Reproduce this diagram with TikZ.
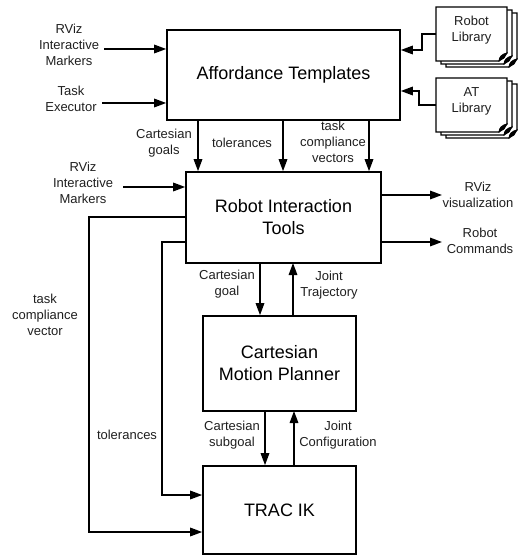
\documentclass[tikz,border=0pt]{standalone}
\usepackage{fontspec}
\setmainfont{Liberation Sans}
\usetikzlibrary{arrows.meta,calc}

\tikzset{
  block/.style={draw, line width=1.6bp, fill=white, align=center,
    font=\fontsize{18bp}{22bp}\selectfont, inner sep=0pt},
  lbl/.style={align=center, font=\fontsize{13bp}{16bp}\selectfont,
    text=black!88, inner sep=0pt},
  arr/.style={line width=1.6bp, -{Triangle[length=12bp,width=8.5bp]}},
  sheet/.style={draw, fill=white, line width=1.3bp},
  libbox/.style={minimum width=71bp, minimum height=54bp, inner sep=0pt}
}

% one stack of three library pages, #1 = top-left corner of the front page
\newcommand\pagestack[1]{%
  \foreach \o in {10,5,0} {%
    \begin{scope}[shift={($(#1)+(\o,0.6*\o)$)}]
      \draw[sheet] (0,0) -- (71,0) -- (71,46)
        .. controls (68,48) and (65,51) .. (63,54) -- (0,54) -- cycle;
      \filldraw[line width=0.8bp] (63,54) .. controls (63,50) and (66,47) .. (71,46)
        -- (68,51) -- cycle;
    \end{scope}
  }%
}

\begin{document}
\begin{tikzpicture}[x=1bp, y=-1bp]
  \useasboundingbox (0,0) rectangle (519,556);

  % main blocks
  \node[block, minimum width=233bp, minimum height=90bp] (at) at (283.5,75)
    {Affordance Templates};
  \node[block, minimum width=195bp, minimum height=91bp] (rit) at (283.5,217.5)
    {Robot Interaction\\Tools};
  \node[block, minimum width=153bp, minimum height=95bp] (cmp) at (279.5,363.5)
    {Cartesian\\Motion Planner};
  \node[block, minimum width=153bp, minimum height=88bp] (trac) at (279.5,510)
    {TRAC IK};

  % libraries
  \coordinate (rlcorner) at (436,7);
  \pagestack{rlcorner}
  \node[libbox] (robotlib) at (471.5,34) {};
  \node[lbl] (robotlibtxt) at (471.5,30) {Robot\\Library};

  \coordinate (alcorner) at (436,78);
  \pagestack{alcorner}
  \node[libbox] (atlib) at (471.5,105) {};
  \node[lbl] (atlibtxt) at (471.5,101) {AT\\Library};

  \coordinate (rlbend) at (422,34);
  \coordinate (albend) at (419,105);
  \draw[arr] (robotlib.west) -- (rlbend) -- ++(0,16) coordinate (rlin) -- (rlin -| at.east);
  \draw[arr] (atlib.west) -- (albend) -- ++(0,-14) coordinate (alin) -- (alin -| at.east);

  % inputs on the left
  \coordinate (rviz1) at (104,49);
  \coordinate (taskex) at (102,103);
  \coordinate (rviz2) at (123,187);
  \draw[arr] (rviz1) -- (rviz1 -| at.west);
  \draw[arr] (taskex) -- (taskex -| at.west);
  \draw[arr] (rviz2) -- (rviz2 -| rit.west);
  \node[lbl] (rviz1txt) at (69,45) {RViz\\Interactive\\Markers};
  \node[lbl] (taskextxt) at (71,99) {Task\\Executor};
  \node[lbl] (rviz2txt) at (83,183) {RViz\\Interactive\\Markers};

  % Affordance Templates -> Robot Interaction Tools
  \coordinate (cgx) at (198,120);
  \coordinate (tolx) at (283,120);
  \coordinate (tcx) at (369,120);
  \draw[arr] (cgx) -- (cgx |- rit.north);
  \draw[arr] (tolx) -- (tolx |- rit.north);
  \draw[arr] (tcx) -- (tcx |- rit.north);
  \node[lbl] (cgtxt) at (164,143.5) {Cartesian\\goals};
  \node[lbl] (toltxt) at (242,143) {tolerances};
  \node[lbl] (tctxt) at (333,142) {task\\compliance\\vectors};

  % outputs on the right
  \coordinate (vizout) at (442,195);
  \coordinate (cmdout) at (442,242);
  \draw[arr] (vizout -| rit.east) -- (vizout);
  \draw[arr] (cmdout -| rit.east) -- (cmdout);
  \node[lbl] (viztxt) at (478,195) {RViz\\visualization};
  \node[lbl] (cmdtxt) at (480,241) {Robot\\Commands};

  % Robot Interaction Tools <-> Cartesian Motion Planner
  \coordinate (goalx) at (260,263);
  \coordinate (trajx) at (293,263);
  \draw[arr] (goalx) -- (goalx |- cmp.north);
  \draw[arr] (trajx |- cmp.north) -- (trajx);
  \node[lbl] (goaltxt) at (227,284.5) {Cartesian\\goal};
  \node[lbl] (trajtxt) at (329,285.5) {Joint\\Trajectory};

  % Cartesian Motion Planner <-> TRAC IK
  \coordinate (subx) at (265,411);
  \coordinate (confx) at (294,411);
  \draw[arr] (subx) -- (subx |- trac.north);
  \draw[arr] (confx |- trac.north) -- (confx);
  \node[lbl] (subtxt) at (232,435.5) {Cartesian\\subgoal};
  \node[lbl] (conftxt) at (338,435.5) {Joint\\Configuration};

  % feedback from Robot Interaction Tools straight to TRAC IK
  \coordinate (tcvtop) at (89,217);
  \coordinate (tcvbot) at (89,532);
  \coordinate (toltop) at (162,242);
  \coordinate (tolbot) at (162,495);
  \draw[arr] (tcvtop -| rit.west) -- (tcvtop) -- (tcvbot) -- (tcvbot -| trac.west);
  \draw[arr] (toltop -| rit.west) -- (toltop) -- (tolbot) -- (tolbot -| trac.west);
  \node[lbl] (tcvtxt) at (45,315) {task\\compliance\\vector};
  \node[lbl] (tol2txt) at (127,435) {tolerances};
\end{tikzpicture}
\end{document}
